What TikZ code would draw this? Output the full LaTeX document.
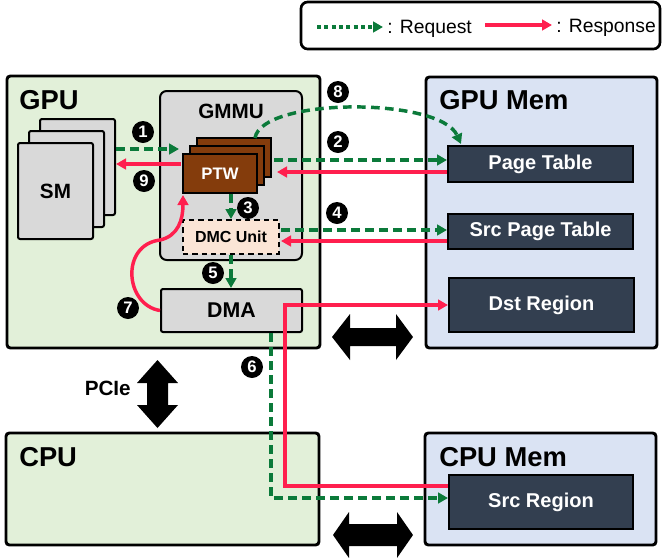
\documentclass[tikz,border=0pt]{standalone}
\usepackage{fontspec}
\setmainfont{Liberation Sans}
\usetikzlibrary{arrows.meta,fit,calc}
\tikzset {>=Stealth}

\definecolor{gpugreen}{HTML}{E2F0D9}
\definecolor{memblue}{HTML}{DAE3F3}
\definecolor{unitgray}{HTML}{D9D9D9}
\definecolor{ptwbrown}{HTML}{843C0C}
\definecolor{dmcpeach}{HTML}{FBE5D6}
\definecolor{tabledark}{HTML}{333F50}
\definecolor{reqgreen}{HTML}{0B7A3A}
\definecolor{resred}{HTML}{FF1F4E}

\tikzset{
  sysbox/.style={draw=black, line width=2.2pt, rounded corners=2.5pt, inner sep=0pt},
  unitbox/.style={draw=black, line width=1.5pt, fill=unitgray, rounded corners=1.5pt, inner sep=0pt},
  ptwbox/.style={draw=black, line width=1.5pt, fill=ptwbrown, inner sep=0pt},
  tblbox/.style={draw=black, line width=1.5pt, fill=tabledark, inner sep=0pt},
  tbltext/.style={text=white, inner sep=0pt, font=\bfseries\fontsize{15}{15}\selectfont},
  unittext/.style={inner sep=0pt, font=\bfseries\fontsize{15.5}{15.5}\selectfont},
  boxtitle/.style={font=\bfseries\fontsize{20.5}{20.5}\selectfont, anchor=base west, inner sep=0pt},
  stepnum/.style={circle, fill=black, text=white, inner sep=0pt, minimum size=16.5pt,
    font=\bfseries\fontsize{12.5}{12.5}\selectfont},
  legtext/.style={anchor=base west, inner ysep=0pt, inner xsep=3pt, font=\fontsize{14.5}{14.5}\selectfont},
  reqline/.style={draw=reqgreen, line width=2.6pt, dash pattern=on 6.5pt off 4pt,
    -{Triangle[length=7.5pt,width=8pt]}},
  reqdot/.style={draw=reqgreen, line width=2.6pt, dash pattern=on 3pt off 2.5pt,
    -{Triangle[length=7.5pt,width=8pt]}},
  resline/.style={draw=resred, line width=2.6pt, -{Triangle[length=7.5pt,width=8pt]}},
}

\begin{document}
\begin{tikzpicture}[x=0.75pt,y=-0.75pt]
\useasboundingbox (0,0) rectangle (662,558);

% Legend
\node[fit={(301,2) (660,49)}, draw, line width=2pt, rounded corners=5pt, inner sep=0pt] (legend) {};
\node[legtext] (reqtxt) at (383,33) {: Request};
\node[legtext] (restxt) at (552,32) {: Response};
\coordinate (reqstart) at (317,27);
\coordinate (resstart) at (485,25);
\draw[reqdot] (reqstart) -- (reqstart -| reqtxt.west);
\draw[resline] (resstart) -- (resstart -| restxt.west);

% Place the four system boxes
\node[sysbox, fill=gpugreen, fit={(7,76) (320,348)}] (gpu) {};
\node[sysbox, fill=gpugreen, fit={(6,433) (319,545)}] (cpu) {};
\node[sysbox, fill=memblue, fit={(426,77) (657,348)}] (gpumem) {};
\node[sysbox, fill=memblue, fit={(425,433) (656,545)}] (cpumem) {};
\node[boxtitle] at (19,109) {GPU};
\node[boxtitle] at (439,109) {GPU Mem};
\node[boxtitle] at (19,466) {CPU};
\node[boxtitle] at (439,466) {CPU Mem};

% SM stack
\node[unitbox, fit={(40,119) (115,215)}] (sm3) {};
\node[unitbox, fit={(29,131) (104,227)}] (sm2) {};
\node[unitbox, fit={(18,143) (93,239)}, label={[unittext]center:SM}] (sm) {};

% GMMU with PTW stack and DMC unit
\node[unitbox, rounded corners=5pt, fit={(160,91) (302,260)}] (gmmu) {};
\node[unittext, anchor=base] at (231,118) {GMMU};
\node[ptwbox, fit={(197,138) (271,177)}] (ptw3) {};
\node[ptwbox, fit={(190,146) (264,185)}] (ptw2) {};
\node[ptwbox, fit={(183,154) (257,193)},
  label={[text=white, inner sep=0pt, font=\bfseries\fontsize{12.5}{12.5}\selectfont]center:PTW}] (ptw) {};
\node[draw=black, line width=1.5pt, dash pattern=on 4pt off 3pt, fill=dmcpeach, inner sep=0pt,
  fit={(183,220) (279,254)},
  label={[inner sep=0pt, font=\bfseries\fontsize{12}{12}\selectfont]center:DMC Unit}] (dmc) {};
\node[unitbox, fit={(161,289) (302,332)},
  label={[inner sep=0pt, font=\bfseries\fontsize{16}{16}\selectfont]center:DMA}] (dma) {};

% Tables and regions in memory
\node[tblbox, fit={(448,146) (633,182)}, label={[tbltext]center:Page Table}] (ptab) {};
\node[tblbox, fit={(448,214) (633,249)}, label={[tbltext]center:Src Page Table}] (stab) {};
\node[tblbox, fit={(449,278) (634,332)}, label={[tbltext]center:Dst Region}] (dstreg) {};
\node[tblbox, fit={(449,475) (633,529)}, label={[tbltext]center:Src Region}] (srcreg) {};

% Links
\fill (332,337) -- (350,314) -- (350,328) -- (396,328) -- (396,314) -- (413,337)
  -- (396,360) -- (396,346) -- (350,346) -- (350,360) -- cycle;
\fill (333,535) -- (349,512) -- (349,524) -- (397,524) -- (397,512) -- (413,535)
  -- (397,558) -- (397,546) -- (349,546) -- (349,558) -- cycle;
\fill (157.5,360) -- (178,383) -- (168,383) -- (168,405) -- (178,405) -- (157.5,428)
  -- (137,405) -- (147,405) -- (147,383) -- (137,383) -- cycle;
\node[unittext, anchor=east] (pcie) at (131,388) {PCIe};

% Requests and responses inside the GPU
\coordinate (a1) at (179,149);
\coordinate (a9) at (181,164);
\draw[reqline] (sm3.east |- a1) -- (a1);
\draw[resline] (a9) -- (sm3.east |- a9);
\draw[reqline] (dmc.north |- ptw.south) -- (dmc.north);
\draw[reqline] (dmc.south) -- (dmc.south |- dma.north);
\draw[resline] (dma.west) .. controls (125,305) and (120,245) .. (160,240)
  .. controls (178,236) and (183,220) .. ($(ptw.south west)+(1,1)$);

% Requests and responses to GPU memory
\coordinate (g2) at (274,160);
\coordinate (r2) at (277,172);
\coordinate (g4) at (281,230);
\coordinate (r4) at (281,241);
\draw[reqline] (g2) -- (ptab.west |- g2);
\draw[resline] (ptab.west |- r2) -- (r2);
\draw[reqline] (g4) -- (stab.west |- g4);
\draw[resline] (stab.west |- r4) -- (r4);
\coordinate (c8) at (255,138);
\draw[reqline] (c8) .. controls (262,97) and (440,97) .. ($(ptab.north west)+(14,-1)$);

% Copy from CPU memory to GPU memory
\coordinate (glow) at (271,498);
\coordinate (rlow) at (285,486);
\coordinate (rhigh) at (285,305);
\draw[reqline] (dma.south -| glow) -- (glow) -- (srcreg.west |- glow);
\draw[resline] (srcreg.west |- rlow) -- (rlow) -- (rhigh) -- (dstreg.west |- rhigh);

% Step numbers
\node[stepnum] (n1) at (143,132) {1};
\node[stepnum] (n2) at (338,142) {2};
\node[stepnum] (n3) at (248,208) {3};
\node[stepnum] (n4) at (337,213) {4};
\node[stepnum] (n5) at (213,273) {5};
\node[stepnum] (n6) at (252,367) {6};
\node[stepnum] (n7) at (128,308) {7};
\node[stepnum] (n8) at (338,92) {8};
\node[stepnum] (n9) at (144,181) {9};

\end{tikzpicture}
\end{document}
